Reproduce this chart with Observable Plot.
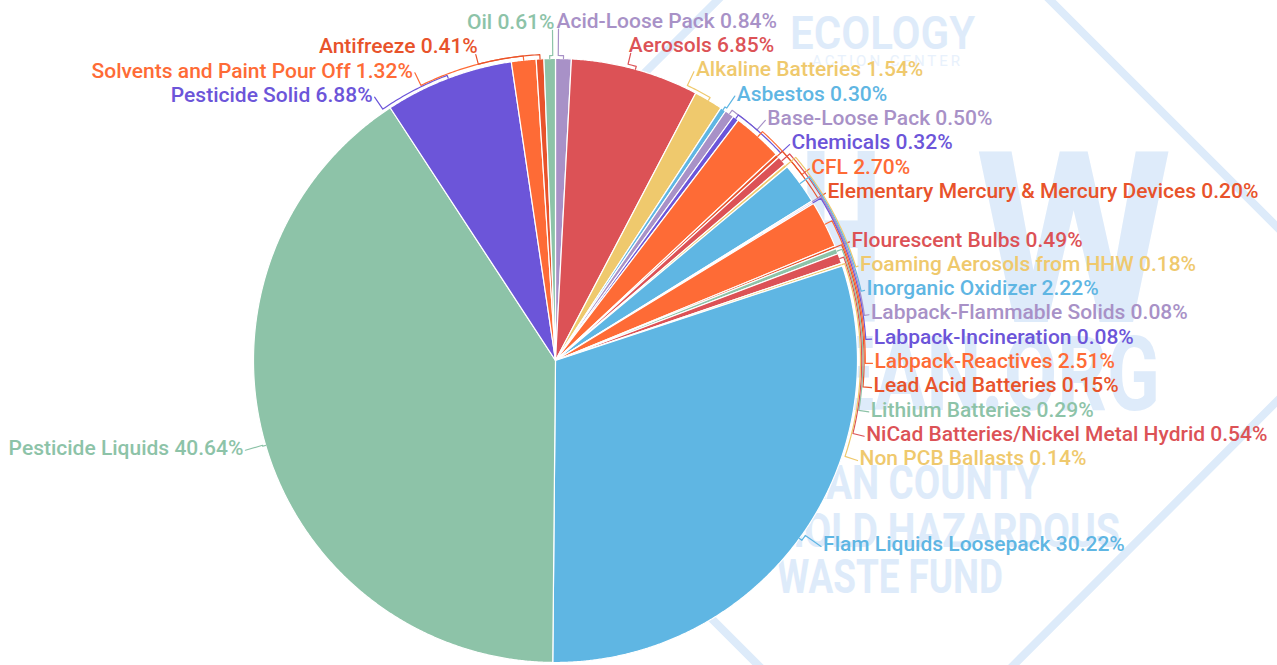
<!DOCTYPE html>
<html>
<head>
<meta charset="utf-8">
<script src="https://cdn.jsdelivr.net/npm/d3@7"></script>
<script src="https://cdn.jsdelivr.net/npm/@observablehq/plot@0.6"></script>
<style>
  html, body { margin: 0; padding: 0; background: #ffffff; }
  #wrap { position: relative; width: 1277px; height: 665px; overflow: hidden; background: #ffffff; }
  #wrap > svg { position: absolute; left: 0; top: 0; }
</style>
</head>
<body>
<div id="wrap">
  <!-- faint background logo (decoration, not data) -->
  <svg id="wm" width="1277" height="665" viewBox="0 0 1277 665" font-family="Roboto, sans-serif">
    <polygon points="884,-166 1364,314 886,793 405,312" fill="none" stroke="#ddebfa" stroke-width="8"/>
    <g fill="#deebfa">
      <text x="790" y="49" font-size="46" font-weight="600" textLength="185" lengthAdjust="spacingAndGlyphs">ECOLOGY</text>
      <text x="812" y="66" font-size="15" font-weight="400" fill="#e8f1fc" textLength="148" lengthAdjust="spacing">ACTION CENTER</text>
      <text x="700" y="322" font-size="240" font-weight="700" textLength="82" lengthAdjust="spacingAndGlyphs">H</text>
      <text x="800" y="322" font-size="240" font-weight="700" textLength="82" lengthAdjust="spacingAndGlyphs">H</text>
      <text x="975" y="322" font-size="240" font-weight="700" textLength="197" lengthAdjust="spacingAndGlyphs">W</text>
      <text x="1160" y="410" font-size="104" font-weight="700" text-anchor="end" textLength="490" lengthAdjust="spacingAndGlyphs">MCLEAN.ORG</text>
      <text x="1040" y="499" font-size="48" font-weight="700" text-anchor="end" textLength="315" lengthAdjust="spacingAndGlyphs">MCLEAN COUNTY</text>
      <text x="1120" y="547" font-size="48" font-weight="700" text-anchor="end" textLength="470" lengthAdjust="spacingAndGlyphs">HOUSEHOLD HAZARDOUS</text>
      <text x="1003" y="593" font-size="48" font-weight="700" text-anchor="end" textLength="226" lengthAdjust="spacingAndGlyphs">WASTE FUND</text>
    </g>
  </svg>
</div>
<script>
// ---------------- data ----------------
const categories = [
  "Acid-Loose Pack", "Aerosols", "Alkaline Batteries", "Asbestos", "Base-Loose Pack",
  "Chemicals", "CFL", "Elementary Mercury & Mercury Devices", "Flourescent Bulbs",
  "Foaming Aerosols from HHW", "Inorganic Oxidizer", "Labpack-Flammable Solids",
  "Labpack-Incineration", "Labpack-Reactives", "Lead Acid Batteries", "Lithium Batteries",
  "NiCad Batteries/Nickel Metal Hydrid", "Non PCB Ballasts", "Flam Liquids Loosepack",
  "Pesticide Liquids", "Pesticide Solid", "Solvents and Paint Pour Off", "Antifreeze", "Oil"
];
const shares = [
  0.84, 6.85, 1.54, 0.30, 0.50,
  0.32, 2.70, 0.20, 0.49,
  0.18, 2.22, 0.08,
  0.08, 2.51, 0.15, 0.29,
  0.54, 0.14, 30.22,
  40.64, 6.88, 1.32, 0.41, 0.61
];

// ---------------- colour range for the ordinal colour scale ----------------
const LP = "#a891c7", RED = "#dc5256", YEL = "#efc96d", BLUE = "#5fb6e3",
      PUR = "#6c55d9", ORG = "#fe6b36", DOR = "#e8532b", GRN = "#8dc3a8";
const sliceColors = [LP, RED, YEL, BLUE, LP, PUR, ORG, DOR, RED, YEL, BLUE, LP,
                     PUR, ORG, DOR, GRN, RED, YEL, BLUE, GRN, PUR, ORG, DOR, GRN];

// ---------------- layout constants ----------------
const W = 1277, H = 665;
const CX = 555, CY = 360, R = 302;          // pie centre / radius in px
const ROW = 24.3, LABEL_TOP = 8.5;           // label row height, top limit
const NAT_R = 312;                           // natural label radius
const LAB_A = 318, LAB_B = 323.5;            // label ellipse
const NAT_PAD = 5;                           // extra gap for labels left at their natural place
const FONT = 21, WEIGHT = 500, WRAP = 412;   // label font, wrap width

const toX = px => (px - CX) / R;
const toY = py => (CY - py) / R;
const pol = (rad, a) => ({x: rad * Math.sin(a) / R, y: rad * Math.cos(a) / R});

// ---------------- slices ----------------
const total = d3.sum(shares);
let acc = 0;
const slices = categories.map((name, i) => {
  const a0 = acc / total * 2 * Math.PI;
  acc += shares[i];
  const a1 = acc / total * 2 * Math.PI;
  return {name, value: shares[i], a0, a1, mid: (a0 + a1) / 2, i};
});

const slicePts = [];
for (const s of slices) {
  slicePts.push({name: s.name, x: 0, y: 0});
  const n = Math.max(2, Math.ceil((s.a1 - s.a0) / (Math.PI / 720)));
  for (let k = 0; k <= n; k++) {
    const a = s.a0 + (s.a1 - s.a0) * k / n;
    slicePts.push({name: s.name, ...pol(R, a)});
  }
  slicePts.push({name: s.name, x: 0, y: 0});
}

// ---------------- label layout ----------------
const ctx = document.createElement("canvas").getContext("2d");
ctx.font = `${WEIGHT} ${FONT}px Roboto`;

const labels = slices.map(s => {
  const text = `${s.name} ${s.value.toFixed(2)}%`;
  const side = Math.sin(s.mid) >= 0 ? 1 : -1;
  const natural = CY - NAT_R * Math.cos(s.mid);
  const rows = ctx.measureText(text).width > WRAP ? 2 : 1;
  return {...s, text, side, natural, rows};
});

function distribute(items) {
  items.sort((a, b) => a.natural - b.natural);
  let boxes = items.map(d => ({items: [d], size: d.rows * ROW, lo: d.natural, hi: d.natural, pos: 0}));
  let moved = true, guard = 0;
  while (moved && guard++ < 200) {
    for (const b of boxes) {
      const want = (b.lo + b.hi) / 2 - b.size / 2;
      b.pos = Math.min(Math.max(LABEL_TOP, want), H - b.size);
    }
    moved = false;
    for (let i = boxes.length - 1; i > 0; i--) {
      const a = boxes[i - 1], b = boxes[i];
      if (a.pos + a.size > b.pos + 0.01) {
        a.items = a.items.concat(b.items);
        a.size += b.size;
        a.lo = Math.min(a.lo, b.lo);
        a.hi = Math.max(a.hi, b.hi);
        boxes.splice(i, 1);
        moved = true;
      }
    }
  }
  for (const b of boxes) {
    let off = 0;
    for (const d of b.items) {
      d.y = b.pos + off + ROW / 2;
      d.alone = b.items.length === 1;
      off += d.rows * ROW;
    }
  }
}
distribute(labels.filter(d => d.side > 0));
distribute(labels.filter(d => d.side < 0));

const L0 = R + 6;
for (const l of labels) {
  const dy = CY - l.y;
  const off = LAB_A * Math.sqrt(Math.max(0, 1 - dy * dy / (LAB_B * LAB_B)));
  l.tx = CX + l.side * (off + 1 + (l.alone ? NAT_PAD : 0));
  if (Math.abs(dy) > L0) { l.ex = l.tx + l.side * 2; l.ey = l.y + 8; }
  else { l.ex = l.tx - l.side * 2; l.ey = l.y + 2; }
  let phi = Math.atan2(l.ex - CX, CY - l.ey);
  if (l.side < 0) { if (phi < 0) phi += 2 * Math.PI; if (phi < Math.PI / 2) phi += 2 * Math.PI; }
  l.phi = phi;
  l.lo = Math.min(l.mid, phi); l.hi = Math.max(l.mid, phi);
  l.dir = Math.sign(phi - l.mid);
}
// lanes: connectors that travel further along sit outside the ones they pass
for (const l of labels) {
  let count = 0;
  for (const m of labels) {
    if (m === l || m.side !== l.side) continue;
    const overlap = m.lo < l.hi && m.hi > l.lo;
    if (!overlap) continue;
    if ((l.dir > 0 && m.mid > l.mid) || (l.dir < 0 && m.mid < l.mid)) count++;
  }
  l.lane = R + 3 + 1.2 * count;
}

const connPts = [];
for (const l of labels) {
  connPts.push({name: l.name, ...pol(R, l.mid)});
  connPts.push({name: l.name, ...pol(l.lane, l.mid)});
  const n = Math.max(1, Math.ceil(Math.abs(l.phi - l.mid) / (Math.PI / 360)));
  for (let k = 1; k <= n; k++) connPts.push({name: l.name, ...pol(l.lane, l.mid + (l.phi - l.mid) * k / n)});
  connPts.push({name: l.name, x: toX(l.ex), y: toY(l.ey)});
}

const labelRows = labels.map(l => ({name: l.name, text: l.text, side: l.side, x: toX(l.tx), y: toY(l.y)}));

// ---------------- chart ----------------
const chart = Plot.plot({
  width: W,
  height: H,
  margin: 0,
  x: {domain: [toX(0), toX(W)], axis: null},
  y: {domain: [toY(H), toY(0)], axis: null},
  color: {domain: categories, range: sliceColors},
  style: {background: "transparent", fontFamily: "Roboto, sans-serif"},
  marks: [
    Plot.line(slicePts, {x: "x", y: "y", z: "name", fill: "name", stroke: "#ffffff", strokeWidth: 1.2, strokeLinejoin: "round"}),
    Plot.line(connPts, {x: "x", y: "y", z: "name", stroke: "name", strokeWidth: 1.2, strokeLinejoin: "round"}),
    Plot.text(labelRows.filter(d => d.side > 0), {x: "x", y: "y", text: "text", fill: "name", textAnchor: "start", lineAnchor: "middle", fontSize: FONT, fontWeight: WEIGHT, fontFamily: "Roboto"}),
    Plot.text(labelRows.filter(d => d.side < 0), {x: "x", y: "y", text: "text", fill: "name", textAnchor: "end", lineAnchor: "middle", fontSize: FONT, fontWeight: WEIGHT, fontFamily: "Roboto"})
  ]
});
document.getElementById("wrap").appendChild(chart);
</script>
</body>
</html>
